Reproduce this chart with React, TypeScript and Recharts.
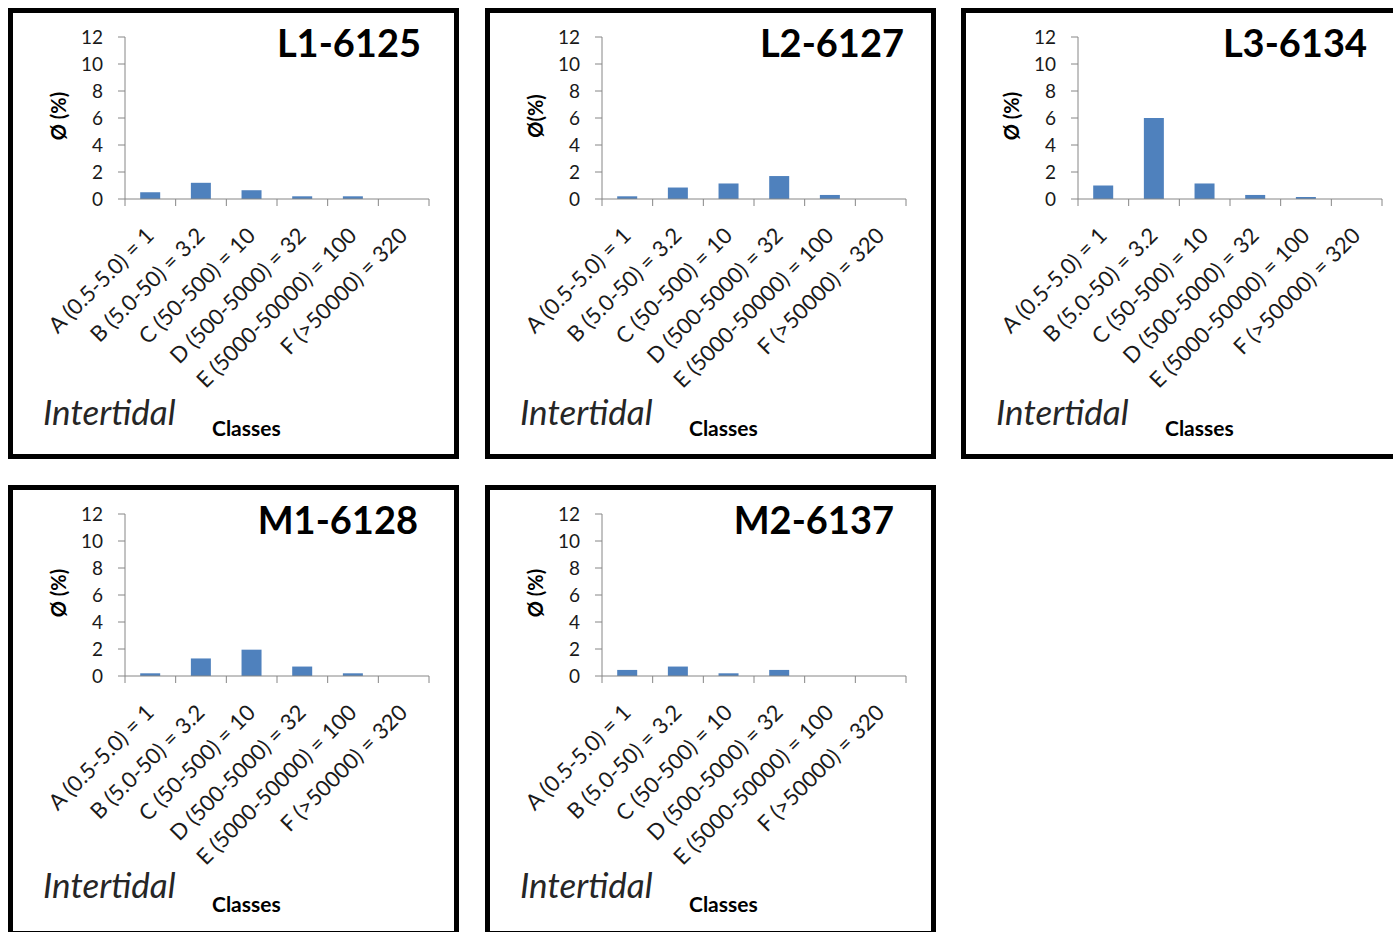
import React from "react";
import { BarChart, Bar, XAxis, YAxis } from "recharts";

// ---------- data ----------
const categories = [
  "A (0.5-5.0) = 1",
  "B (5.0-50) = 3.2",
  "C (50-500) = 10",
  "D (500-5000) = 32",
  "E (5000-50000) = 100",
  "F (>50000) = 320",
];
const seriesL1 = [0.5, 1.2, 0.65, 0.2, 0.2, 0];
const seriesL2 = [0.2, 0.85, 1.15, 1.7, 0.3, 0];
const seriesL3 = [1.0, 6.0, 1.15, 0.3, 0.15, 0];
const seriesM1 = [0.2, 1.3, 1.95, 0.7, 0.2, 0];
const seriesM2 = [0.45, 0.7, 0.2, 0.45, 0, 0];

const panelTitles = ["L1-6125", "L2-6127", "L3-6134", "M1-6128", "M2-6137"];
const yAxisTitles = ["Ø (%)", "Ø(%)", "Ø (%)", "Ø (%)", "Ø (%)"];
const yTicks = [0, 2, 4, 6, 8, 10, 12];
const zoneLabel = "Intertidal";
const xAxisTitle = "Classes";

const panelSeries = [seriesL1, seriesL2, seriesL3, seriesM1, seriesM2];

// ---------- layout / style ----------
const PANEL_LAYOUT = [
  { left: 8, top: 8, titleX: 408 },
  { left: 485, top: 8, titleX: 414 },
  { left: 961, top: 8, titleX: 401 },
  { left: 8, top: 485, titleX: 405 },
  { left: 485, top: 485, titleX: 404 },
];
const PANEL = 451;
const BORDER = 5;
const INNER = PANEL - 2 * BORDER;
const AXIS = "#868686";
const BAR = "#4F81BD";
const FONT = "Lato, 'Open Sans', 'Noto Sans', sans-serif";
const TEXT = "#1a1a1a";

function CategoryTick(props: any) {
  const { x, y, payload, index, visibleTicksCount, width } = props;
  const half =
    payload && typeof payload.offset === "number" && payload.offset > 0
      ? payload.offset
      : width / visibleTicksCount / 2;
  const tx = x + 5;
  const ty = y + 38;
  return (
    <g>
      <line x1={x - half} x2={x - half} y1={y} y2={y + 7} stroke={AXIS} strokeWidth={1} />
      {index === visibleTicksCount - 1 ? (
        <line x1={x + half} x2={x + half} y1={y} y2={y + 7} stroke={AXIS} strokeWidth={1} />
      ) : null}
      <text
        x={tx}
        y={ty}
        transform={`rotate(-45, ${tx}, ${ty})`}
        textAnchor="end"
        fontSize={22}
        fontFamily={FONT}
        fill={TEXT}
      >
        {payload.value}
      </text>
    </g>
  );
}

function Panel({ idx }: { idx: number }) {
  const layout = PANEL_LAYOUT[idx];
  const values = panelSeries[idx];
  const data = categories.map((name, i) => ({ name, v: values[i] }));
  return (
    <div
      style={{
        position: "absolute",
        left: layout.left,
        top: layout.top,
        width: PANEL,
        height: PANEL,
        border: `${BORDER}px solid #000`,
        boxSizing: "border-box",
        background: "#fff",
      }}
    >
      <div style={{ position: "absolute", left: 0, top: 0 }}>
        <BarChart
          width={INNER}
          height={INNER}
          data={data}
          margin={{ top: 24, right: 25, left: 0, bottom: 0 }}
          barCategoryGap="30%"
        >
          <XAxis
            dataKey="name"
            type="category"
            height={255}
            interval={0}
            axisLine={{ stroke: AXIS }}
            tickLine={false}
            tickSize={0}
            tickMargin={0}
            tick={<CategoryTick />}
          />
          <YAxis
            type="number"
            domain={[0, 12]}
            ticks={yTicks}
            width={112}
            interval={0}
            axisLine={{ stroke: AXIS }}
            tickLine={{ stroke: AXIS }}
            tickSize={7}
            tickMargin={15}
            tick={{ fontSize: 19, fontFamily: FONT, fill: TEXT }}
          />
          <Bar dataKey="v" fill={BAR} isAnimationActive={false} />
        </BarChart>
      </div>
      <svg
        width={INNER}
        height={INNER}
        style={{ position: "absolute", left: 0, top: 0, pointerEvents: "none" }}
      >
        <text
          x={layout.titleX}
          y={44}
          textAnchor="end"
          fontSize={38}
          fontWeight={700}
          fontFamily={FONT}
          fill="#000"
        >
          {panelTitles[idx]}
        </text>
        <text
          x={45}
          y={103}
          transform="rotate(-90, 45, 103)"
          textAnchor="middle"
          dominantBaseline="central"
          fontSize={20}
          fontWeight={700}
          fontFamily={FONT}
          fill="#000"
        >
          {yAxisTitles[idx]}
        </text>
        <text
          x={30}
          y={idx < 3 ? 412 : 408}
          fontSize={35}
          fontStyle="italic"
          fontFamily={FONT}
          fill="#262626"
        >
          {zoneLabel}
        </text>
        <text
          x={199}
          y={idx < 3 ? 423 : 422}
          fontSize={21}
          fontWeight={700}
          fontFamily={FONT}
          fill="#000"
        >
          {xAxisTitle}
        </text>
      </svg>
    </div>
  );
}

export default function App() {
  return (
    <div
      style={{
        position: "fixed",
        left: 0,
        top: 0,
        width: 1393,
        height: 932,
        overflow: "hidden",
        background: "#fff",
      }}
    >
      {panelTitles.map((_, i) => (
        <Panel key={i} idx={i} />
      ))}
    </div>
  );
}
